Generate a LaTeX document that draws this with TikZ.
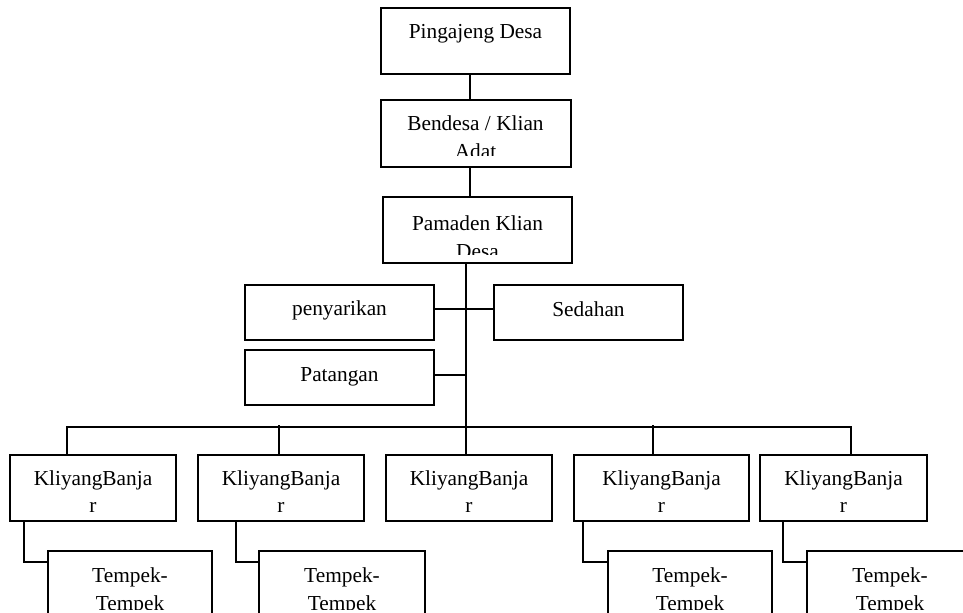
\documentclass[tikz,border=0pt]{standalone}
\usepackage{fontspec}
\setmainfont{Liberation Serif}
\usetikzlibrary{fit}
\tikzset{
  boxst/.style={draw=black, line width=1.4pt, inner sep=0pt, fill=none},
  lbl/.style={anchor=base, inner sep=0pt, font=\fontsize{16}{19}\selectfont},
  conn/.style={draw=black, line width=1.4pt},
}
\newcommand{\mybox}[5]{%
  \path (#2,#3) coordinate (#1-a) (#4,#5) coordinate (#1-b);
  \node[boxst, fit=(#1-a)(#1-b)] (#1) {};}
\begin{document}
\begin{tikzpicture}[x=0.75pt,y=-0.75pt]
\clip (0,0) rectangle (963,613);
\fill[white] (0,0) rectangle (963,613);
% boxes
\mybox{ping}{381}{8}{570}{74}
\mybox{bend}{381}{100}{571}{167}
\mybox{pam}{383}{197}{572}{263}
\mybox{peny}{245}{285}{434}{340}
\mybox{sed}{494}{285}{683}{340}
\mybox{pat}{245}{350}{434}{405}
\mybox{kbA}{10}{455}{176}{521}
\mybox{kbB}{198}{455}{364}{521}
\mybox{kbC}{386}{455}{552}{521}
\mybox{kbD}{574}{455}{749}{521}
\mybox{kbE}{760}{455}{927}{521}
\mybox{tpA}{48}{551}{212}{660}
\mybox{tpB}{259}{551}{425}{660}
\mybox{tpD}{608}{551}{772}{660}
\mybox{tpE}{807}{551}{973}{660}
% texts
\node[lbl] (t-ping) at (475.5,39) {Pingajeng Desa};
\node[lbl] (t-bend) at (475.5,131) {Bendesa / Klian};
\begin{scope}
\clip (381,100) rectangle (571,156);
\node[lbl] (t-bend2) at (475.5,159) {Adat};
\end{scope}
\node[lbl] (t-pam) at (477.5,230) {Pamaden Klian};
\begin{scope}
\clip (383,197) rectangle (572,254);
\node[lbl] (t-pam2) at (477.5,258) {Desa};
\end{scope}
\node[lbl] (t-peny) at (339.5,315) {penyarikan};
\node[lbl] (t-sed) at (588.5,316) {Sedahan};
\node[lbl] (t-pat) at (339.5,381) {Patangan};
\foreach \n/\cx in {kbA/93,kbB/281,kbC/469,kbD/661.5,kbE/843.5}{
  \node[lbl] (t-\n) at (\cx,485) {KliyangBanja};
  \node[lbl] (t-\n r) at (\cx,512) {r};
}
\begin{scope}
\clip (0,540) rectangle (963,609);
\foreach \n/\cx in {tpA/130,tpB/342,tpD/690,tpE/890}{
  \node[lbl] (t-\n) at (\cx,582) {Tempek-};
  \node[lbl] (t-\n 2) at (\cx,610) {Tempek};
}
\end{scope}
% connectors
\coordinate (xa) at (470,0);
\coordinate (xt) at (466,0);
\draw[conn] (ping.south -| xa) -- (bend.north -| xa);
\draw[conn] (bend.south -| xa) -- (pam.north -| xa);
\draw[conn] (pam.south -| xt) -- (kbC.north -| xt);
\draw[conn] (peny.east |- 0,309) -- (sed.west |- 0,309);
\draw[conn] (pat.east |- 0,375) -- (466,375) coordinate (patj);
\coordinate (busL) at (67,427);
\coordinate (busR) at (851,427);
\draw[conn] (kbA.north -| busL) -- (busL) -- (busR) -- (kbE.north -| busR);
\coordinate (dB) at (279,425);
\coordinate (dD) at (653,425);
\draw[conn] (dB) -- (kbB.north -| dB);
\draw[conn] (dD) -- (kbD.north -| dD);
\foreach \k/\t/\x in {kbA/tpA/24,kbB/tpB/236,kbD/tpD/583,kbE/tpE/783}{
  \draw[conn] (\k.south -| \x,0) -- (\x,562) -- (\t.west |- 0,562);
}
\end{tikzpicture}
\end{document}
